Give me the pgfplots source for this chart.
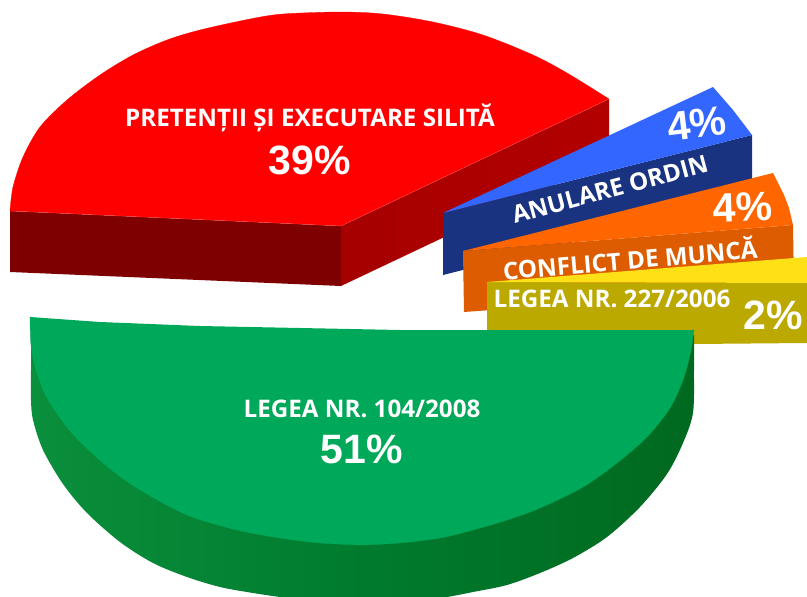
\documentclass[border=0pt]{standalone}
\usepackage{pgfplots}
\pgfplotsset{compat=1.18}
\usepackage{fontspec}
\setmainfont{Open Sans}
\newfontfamily\pct{Liberation Sans}
\definecolor{rtop}{HTML}{FF0000}
\definecolor{rl}{HTML}{7F0000}
\definecolor{rr1}{HTML}{A60000}
\definecolor{rr2}{HTML}{B20000}
\definecolor{btop}{HTML}{3366FF}
\definecolor{bside}{HTML}{1A3380}
\definecolor{otop}{HTML}{FF6600}
\definecolor{oside}{HTML}{DD5C00}
\definecolor{ytop}{HTML}{FDE016}
\definecolor{yside}{HTML}{BCA900}
\definecolor{gtop}{HTML}{00A859}
\definecolor{g1}{HTML}{0A8F3C}
\definecolor{g2}{HTML}{007B2E}
\definecolor{g3}{HTML}{00691F}
\newcommand{\lab}[1]{{\color{white}\fontsize{24.2}{26}\selectfont\bfseries #1}}
\newcommand{\pc}[1]{{\color{white}\pct\fontsize{41}{44}\selectfont\bfseries #1}}
\begin{document}
\begin{tikzpicture}
\begin{axis}[
  width=807pt,height=597pt,scale only axis,
  xmin=0,xmax=807,ymin=0,ymax=597,y dir=reverse,
  hide axis,clip=true,no markers,
  every node/.append style={inner sep=0pt,anchor=center}
]
% page background
\addplot[draw=none,fill=white] coordinates {(0,0)(807,0)(807,597)(0,597)};
% red slice sides
\addplot[draw=none,fill=rl] coordinates {(10,211)(341,226)(341,286)(10,272)};
\addplot[draw=none,left color=rr1,right color=rr2] coordinates {(341,226)(609,99)(609,159)(341,286)};
% red top
\addplot[smooth,draw=rtop,line width=0.3pt,fill=rtop] coordinates {(10,211)(13,187)(23,157)(40,127)(67,100)(100,75)(133,55)(167,40)(200,30)(250,19)(283,14)(340,12)(383,14)(433,22)(483,35)(533,55)(567,73)(609,99)};
\addplot[draw=none,fill=rtop] coordinates {(10,211)(341,226)(609,99)(560,75)(480,40)(340,20)(200,40)(100,85)(40,135)(20,170)};
\addplot[draw=red!60!white,line width=0.3pt,opacity=0.7] coordinates {(10,211)(341,226)(609,99)};
% blue
\addplot[draw=none,fill=bside] coordinates {(443,213)(752,135)(752,197)(443,275)};
\addplot[draw=none,fill=btop] coordinates {(443,213)(713,87)(733,110)(752,135)};
% orange
\addplot[draw=none,fill=oside] coordinates {(463,251)(793,225)(794,288)(464,312)};
\addplot[draw=none,fill=otop] coordinates {(463,251)(773,173)(779,185)(784,195)(789,208)(793,225)};
% yellow
\addplot[draw=none,fill=yside] coordinates {(487,282)(807,283)(807,343)(694,344)(487,344)};
\addplot[draw=none,fill=ytop] coordinates {(487,282)(807,257)(807,283)};
% green side
\addplot[smooth,draw=none,left color=g1,right color=g3,middle color=g2] coordinates {(31,340)(31,370)(31,400)(33,420)(43,450)(63,484)(87,513)(120,542)(153,563)(187,577)(220,587)(253,593)(280,597)(320,602)(365,605)(410,602)(447,597)(473,592)(507,585)(540,573)(573,558)(607,537)(640,507)(667,474)(683,443)(693,413)(694,370)(694,335)};
% green top
\addplot[smooth,draw=gtop,line width=0.3pt,fill=gtop] coordinates {(30,317)(31,345)(36,370)(47,398)(70,431)(103,463)(137,488)(187,515)(237,530)(280,538)(320,543)(362,545)};
\addplot[smooth,draw=gtop,line width=0.3pt,fill=gtop] coordinates {(362,545)(400,543)(440,538)(473,530)(507,520)(540,508)(583,487)(617,463)(647,437)(670,408)(683,380)(690,355)(694,330)};
\addplot[draw=none,fill=gtop] coordinates {(30,317)(100,322)(200,326)(300,328)(400,330)(694,330)(670,400)(600,470)(500,515)(362,545)(200,505)(100,455)(50,395)(32,345)};
% labels
\node at (axis cs:310,118) {\lab{PRETENȚII ȘI EXECUTARE SILITĂ}};
\node at (axis cs:310,160) {\pc{39\%}};
\node at (axis cs:362,409) {\lab{LEGEA NR. 104/2008}};
\node at (axis cs:362,449) {\pc{51\%}};
\node[rotate=15] at (axis cs:610,189) {\lab{ANULARE ORDIN}};
\node[rotate=7] at (axis cs:697,124) {\pc{4\%}};
\node[rotate=5] at (axis cs:630,258) {\lab{CONFLICT DE MUNCĂ}};
\node[rotate=2] at (axis cs:743,207) {\pc{4\%}};
\node at (axis cs:612,299) {\lab{LEGEA NR. 227/2006}};
\node at (axis cs:773,315) {\pc{2\%}};
\end{axis}
\end{tikzpicture}
\end{document}
